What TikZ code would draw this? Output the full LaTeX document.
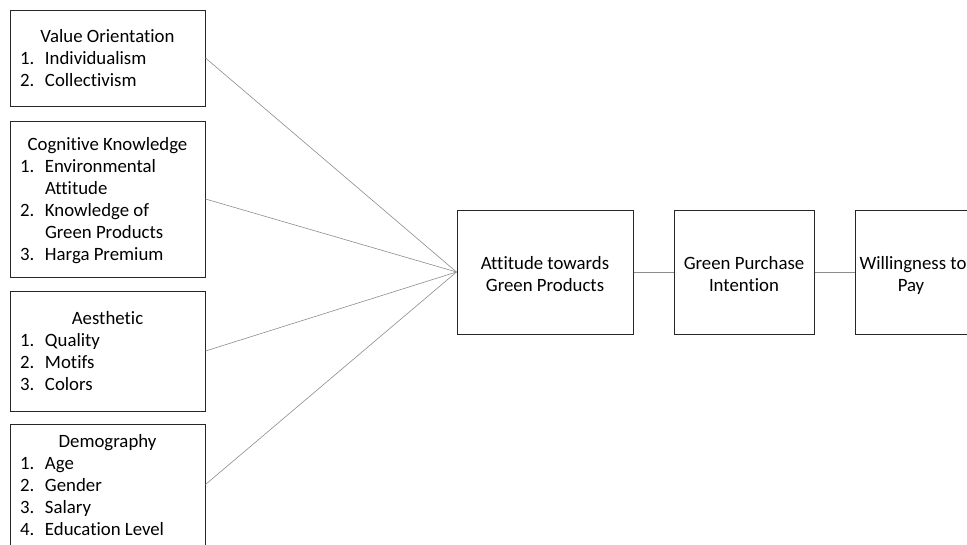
\documentclass[tikz,border=0pt]{standalone}
\usepackage{fontspec}
\setmainfont{Carlito}[Ligatures=CommonOff]
\usepackage{array}
\begin{document}
\begin{tikzpicture}[x=1pt,y=-1pt,
  every node/.style={font=\fontsize{18.8}{22}\selectfont},
  lbox/.style={draw=black!85, line width=1pt, minimum width=195pt, inner sep=0pt, rectangle},
  rbox/.style={draw=black!85, line width=1pt, minimum height=124pt, inner sep=0pt, rectangle},
  link/.style={draw=black!45, line width=0.6pt}]
\useasboundingbox (0,0) rectangle (967,544);
\newcommand{\lst}[2]{\raisebox{-2.5pt}[\height][\depth]{\begin{tabular}{@{}p{25pt}@{}p{150pt}@{}}\multicolumn{2}{@{}c@{}}{#1}\\#2\end{tabular}}}
\newcommand{\two}[2]{\raisebox{-4pt}[\height][\depth]{\begin{tabular}{@{}c@{}}#1\\#2\end{tabular}}}
\node[lbox, minimum height=96pt] (vo) at (107.5,58)
  {\lst{Value Orientation}{1. & Individualism\\ 2. & Collectivism}};
\node[lbox, minimum height=156pt] (ck) at (107.5,199)
  {\lst{Cognitive Knowledge}{1. & Environmental\\ & Attitude\\ 2. & Knowledge of\\ & Green Products\\ 3. & Harga Premium}};
\node[lbox, minimum height=120pt] (ae) at (107.5,351)
  {\lst{Aesthetic}{1. & Quality\\ 2. & Motifs\\ 3. & Colors}};
\node[lbox, minimum height=121pt] (de) at (107.5,484.5)
  {\lst{Demography}{1. & Age\\ 2. & Gender\\ 3. & Salary\\ 4. & Education Level}};
\node[rbox, minimum width=176pt] (at) at (545,272) {\two{Attitude towards}{Green Products}};
\node[rbox, minimum width=140pt] (gp) at (744,272) {\two{Green Purchase}{Intention}};
\node[rbox, minimum width=112pt] (wp) at (911,272) {\two{\hspace{4pt}Willingness to}{Pay}};
\draw[link] (vo.east) -- (at.west);
\draw[link] (ck.east) -- (at.west);
\draw[link] (ae.east) -- (at.west);
\draw[link] (de.east) -- (at.west);
\draw[link] (at.east) -- (gp.west);
\draw[link] (gp.east) -- (wp.west);
\end{tikzpicture}
\end{document}
